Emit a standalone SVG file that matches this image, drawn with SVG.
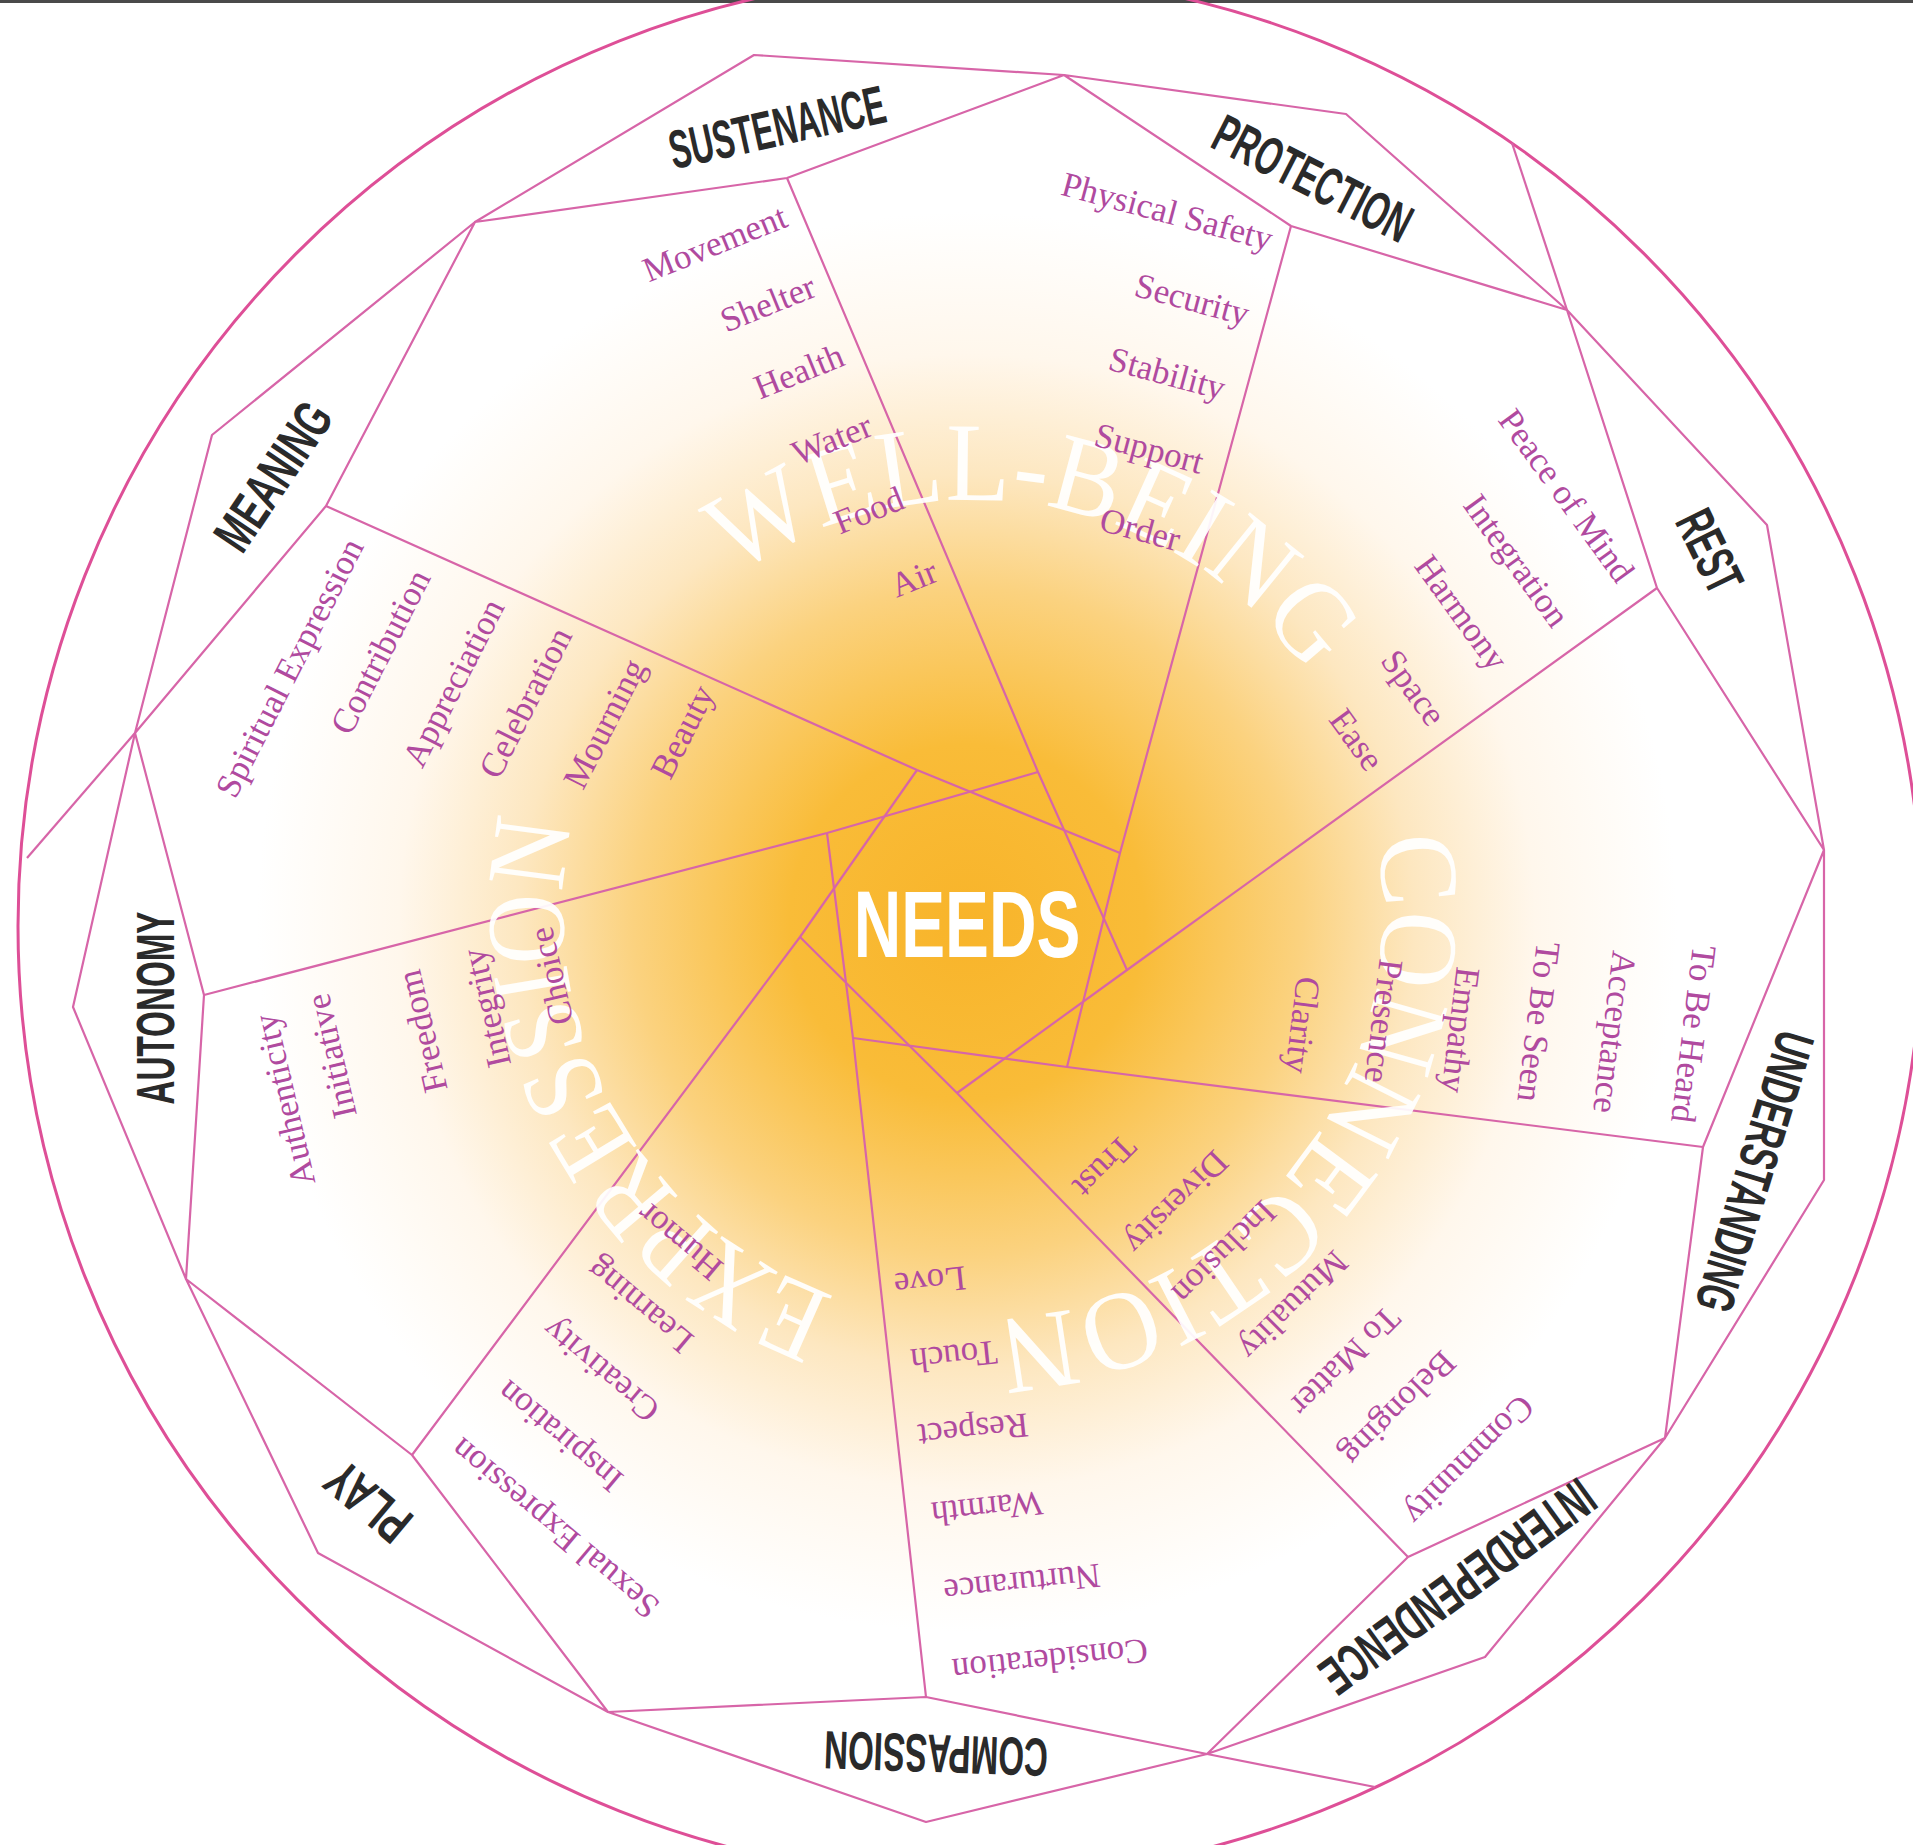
<svg xmlns="http://www.w3.org/2000/svg" width="1913" height="1845" viewBox="0 0 1913 1845">
<defs>
<radialGradient id="glow" gradientUnits="userSpaceOnUse" cx="967" cy="922" r="710">
<stop offset="0" stop-color="#F8B42A"/>
<stop offset="0.25" stop-color="#F9BC38"/>
<stop offset="0.47" stop-color="#FBD27F"/>
<stop offset="0.63" stop-color="#FDE7C0"/>
<stop offset="0.8" stop-color="#FFF7EC"/>
<stop offset="1" stop-color="#FFFFFF"/>
</radialGradient>
<path id="arcWB" d="M734.3,576.6 A410,410 0 0 1 1308.0,673.7"/>
<path id="arcCN" d="M1376.5,837.4 A410,410 0 0 1 995.9,1319.3"/>
<path id="arcEX" d="M834.8,1296.0 A410,410 0 0 1 572.4,822.7"/>
</defs>
<style>
.ln{fill:none;stroke:#D765A8;stroke-width:2.2;stroke-linejoin:round}
.rim{fill:none;stroke:#DE4F97;stroke-width:3}
.lbl{font-family:"Liberation Sans",Arial,sans-serif;font-weight:bold;font-size:54px;fill:#2A2A2A;text-anchor:middle}
.it{font-family:"Liberation Serif","Times New Roman",serif;font-size:35px;fill:#B04A9F;text-anchor:middle}
.big{font-family:"Liberation Serif","Times New Roman",serif;font-size:112px;fill:#FFFFFF;fill-opacity:0.93}
.ctr{font-family:"Liberation Sans",Arial,sans-serif;font-weight:bold;font-size:94px;fill:#FFFFFF;text-anchor:middle}
</style>
<rect x="0" y="0" width="1913" height="1845" fill="#FFFFFF"/>
<rect x="0" y="0" width="1913" height="1845" fill="url(#glow)"/>
<rect x="0" y="0" width="1913" height="3" fill="#4A4A4A"/>

<g id="connectors">
<circle class="rim" cx="970" cy="926" r="952"/>
<polygon class="ln" points="475,222 754,55 1064,75 787,178"/>
<polygon class="ln" points="1064,75 1346,114 1567,310 1291,226"/>
<polygon class="ln" points="1567,310 1767,525 1824,850 1657,588"/>
<polygon class="ln" points="1824,850 1824,1180 1665,1438 1703,1147"/>
<polygon class="ln" points="1665,1438 1485,1657 1207,1754 1408,1557"/>
<polygon class="ln" points="1207,1754 926,1822 608,1712 926,1697"/>
<polygon class="ln" points="608,1712 318,1553 186,1279 412,1455"/>
<polygon class="ln" points="186,1279 73,1007 135,733 204,995"/>
<polygon class="ln" points="135,733 212,435 475,222 326,506"/>
<polyline class="ln" points="787,178 1038,772 1127,970"/>
<polyline class="ln" points="1291,226 1120,853 1067,1067"/>
<polyline class="ln" points="1657,588 1127,970 957,1093"/>
<polyline class="ln" points="1703,1147 1067,1067 853,1038"/>
<polyline class="ln" points="1408,1557 957,1093 800,937"/>
<polyline class="ln" points="926,1697 853,1038 827,833"/>
<polyline class="ln" points="412,1455 800,937 917,770"/>
<polyline class="ln" points="204,995 827,833 1038,772"/>
<polyline class="ln" points="326,506 917,770 1120,853"/>
<line class="ln" x1="1567" y1="310" x2="1512" y2="143"/>
<line class="ln" x1="1207" y1="1754" x2="1375" y2="1787"/>
<line class="ln" x1="135" y1="733" x2="27" y2="858"/>
</g>

<g id="themes">
<text class="big"><textPath href="#arcWB" textLength="647" lengthAdjust="spacingAndGlyphs">WELL-BEING</textPath></text>
<text class="big"><textPath href="#arcCN" textLength="694" lengthAdjust="spacingAndGlyphs">CONNECTION</textPath></text>
<text class="big"><textPath href="#arcEX" textLength="591" lengthAdjust="spacingAndGlyphs">EXPRESSION</textPath></text>
</g>

<g id="needs">
<text class="ctr" transform="translate(967,957) scale(0.7,1)" x="0" y="0">NEEDS</text>
</g>

<g id="sustenance">
<text class="lbl" transform="translate(777,127) rotate(-12.5)" y="19" textLength="220" lengthAdjust="spacingAndGlyphs">SUSTENANCE</text>
<text class="it" transform="translate(715,244) rotate(-22)" y="11">Movement</text>
<text class="it" transform="translate(768,304) rotate(-22)" y="11">Shelter</text>
<text class="it" transform="translate(799,372) rotate(-22)" y="11">Health</text>
<text class="it" transform="translate(832,440) rotate(-22)" y="11">Water</text>
<text class="it" transform="translate(869,511) rotate(-22)" y="11">Food</text>
<text class="it" transform="translate(914,579) rotate(-22)" y="11">Air</text>
</g>

<g id="protection">
<text class="lbl" transform="translate(1313,178) rotate(27)" y="19" textLength="215" lengthAdjust="spacingAndGlyphs">PROTECTION</text>
<text class="it" transform="translate(1167,212) rotate(15)" y="11">Physical Safety</text>
<text class="it" transform="translate(1192,300) rotate(15)" y="11">Security</text>
<text class="it" transform="translate(1167,374) rotate(15)" y="11">Stability</text>
<text class="it" transform="translate(1149,449) rotate(15)" y="11">Support</text>
<text class="it" transform="translate(1140,530) rotate(15)" y="11">Order</text>
</g>

<g id="rest">
<text class="lbl" transform="translate(1710,551) rotate(64)" y="19" textLength="85" lengthAdjust="spacingAndGlyphs">REST</text>
<text class="it" transform="translate(1566,496) rotate(54)" y="11">Peace of Mind</text>
<text class="it" transform="translate(1516,561) rotate(54)" y="11">Integration</text>
<text class="it" transform="translate(1461,613) rotate(54)" y="11">Harmony</text>
<text class="it" transform="translate(1413,688) rotate(54)" y="11">Space</text>
<text class="it" transform="translate(1356,740) rotate(54)" y="11">Ease</text>
</g>

<g id="understanding">
<text class="lbl" transform="translate(1755,1172) rotate(107)" y="19" textLength="290" lengthAdjust="spacingAndGlyphs">UNDERSTANDING</text>
<text class="it" transform="translate(1693,1034) rotate(97)" y="11">To Be Heard</text>
<text class="it" transform="translate(1614,1032) rotate(97)" y="11">Acceptance</text>
<text class="it" transform="translate(1538,1022) rotate(97)" y="11">To Be Seen</text>
<text class="it" transform="translate(1460,1030) rotate(97)" y="11">Empathy</text>
<text class="it" transform="translate(1383,1021) rotate(97)" y="11">Presence</text>
<text class="it" transform="translate(1302,1025) rotate(97)" y="11">Clarity</text>
</g>

<g id="interdependence">
<text class="lbl" transform="translate(1458,1587) rotate(144)" y="19" textLength="325" lengthAdjust="spacingAndGlyphs">INTERDEPENDENCE</text>
<text class="it" transform="translate(1469,1460) rotate(135)" y="11">Community</text>
<text class="it" transform="translate(1398,1408) rotate(135)" y="11">Belonging</text>
<text class="it" transform="translate(1345,1361) rotate(135)" y="11">To Matter</text>
<text class="it" transform="translate(1293,1305) rotate(135)" y="11">Mutuality</text>
<text class="it" transform="translate(1224,1252) rotate(135)" y="11">Inclusion</text>
<text class="it" transform="translate(1176,1202) rotate(135)" y="11">Diversity</text>
<text class="it" transform="translate(1104,1166) rotate(135)" y="11">Trust</text>
</g>

<g id="compassion">
<text class="lbl" transform="translate(936,1754) rotate(182)" y="19" textLength="224" lengthAdjust="spacingAndGlyphs">COMPASSION</text>
<text class="it" transform="translate(930,1281) rotate(174)" y="11">Love</text>
<text class="it" transform="translate(954,1356) rotate(174)" y="11">Touch</text>
<text class="it" transform="translate(973,1430) rotate(174)" y="11">Respect</text>
<text class="it" transform="translate(987,1508) rotate(174)" y="11">Warmth</text>
<text class="it" transform="translate(1022,1583) rotate(174)" y="11">Nurturance</text>
<text class="it" transform="translate(1050,1660) rotate(174)" y="11">Consideration</text>
</g>

<g id="play">
<text class="lbl" transform="translate(368,1502) rotate(220)" y="19" textLength="93" lengthAdjust="spacingAndGlyphs">PLAY</text>
<text class="it" transform="translate(680,1241) rotate(-140)" y="11">Humor</text>
<text class="it" transform="translate(640,1305) rotate(-140)" y="11">Learning</text>
<text class="it" transform="translate(601,1370) rotate(-140)" y="11">Creativity</text>
<text class="it" transform="translate(560,1436) rotate(-140)" y="11">Inspiration</text>
<text class="it" transform="translate(555,1528) rotate(-140)" y="11">Sexual Expression</text>
</g>

<g id="autonomy">
<text class="lbl" transform="translate(155,1008) rotate(-90)" y="19" textLength="193" lengthAdjust="spacingAndGlyphs">AUTONOMY</text>
<text class="it" transform="translate(285,1100) rotate(-103)" y="11">Authenticity</text>
<text class="it" transform="translate(332,1056) rotate(-103)" y="11">Initiative</text>
<text class="it" transform="translate(423,1031) rotate(-103)" y="11">Freedom</text>
<text class="it" transform="translate(487,1008) rotate(-103)" y="11">Integrity</text>
<text class="it" transform="translate(552,976) rotate(-103)" y="11">Choice</text>
</g>

<g id="meaning">
<text class="lbl" transform="translate(273,476) rotate(-56)" y="19" textLength="166" lengthAdjust="spacingAndGlyphs">MEANING</text>
<text class="it" transform="translate(290,668) rotate(-63)" y="11">Spiritual Expression</text>
<text class="it" transform="translate(381,652) rotate(-63)" y="11">Contribution</text>
<text class="it" transform="translate(454,683) rotate(-63)" y="11">Appreciation</text>
<text class="it" transform="translate(526,703) rotate(-63)" y="11">Celebration</text>
<text class="it" transform="translate(605,724) rotate(-63)" y="11">Mourning</text>
<text class="it" transform="translate(683,732) rotate(-63)" y="11">Beauty</text>
</g>
</svg>
